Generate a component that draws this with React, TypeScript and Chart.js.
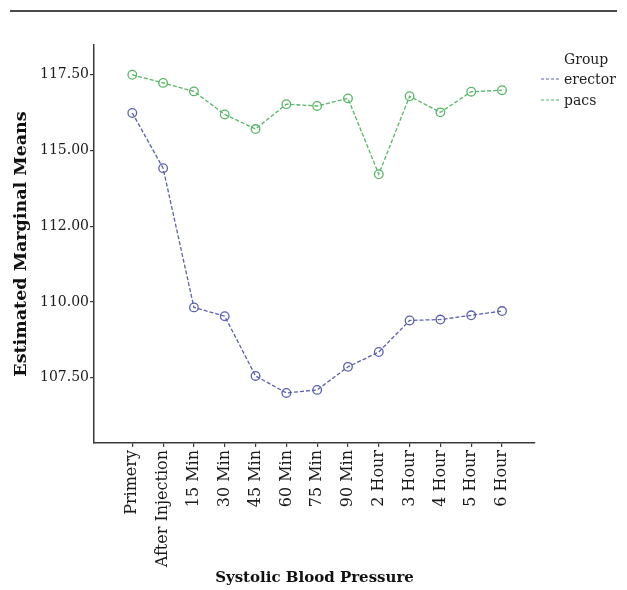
import React, { useEffect, useRef } from "react";
import { Chart, registerables } from "chart.js";

Chart.register(...registerables);

// Measurement occasions along the x axis
const timePoints = [
  "Primery",
  "After Injection",
  "15 Min",
  "30 Min",
  "45 Min",
  "60 Min",
  "75 Min",
  "90 Min",
  "2 Hour",
  "3 Hour",
  "4 Hour",
  "5 Hour",
  "6 Hour",
];

// Estimated marginal means of systolic blood pressure per group
const erectorMeans = [116.23, 114.41, 109.82, 109.53, 107.56, 107.0, 107.1, 107.86, 108.35, 109.39, 109.42, 109.56, 109.7];
const pacsMeans = [117.49, 117.22, 116.94, 116.18, 115.7, 116.52, 116.46, 116.71, 114.21, 116.78, 116.25, 116.93, 116.98];

const groupNames = ["erector", "pacs"];
const groupColors = ["#5a61ad", "#55b766"];

const yTickValues = [107.5, 110, 112.5, 115, 117.5];
const yTickLabels = ["107.50", "110.00", "112.00", "115.00", "117.50"];

const FONT = "'DejaVu Serif', serif";
const AXIS_COLOR = "#3a3a3a";

// Horizontal rule above the plot and the "Group" key on the right
const decorPlugin = {
  id: "decor",
  afterDraw(chart: any) {
    const ctx = chart.ctx as CanvasRenderingContext2D;
    ctx.save();
    ctx.strokeStyle = "#4a4a4a";
    ctx.lineWidth = 2;
    ctx.beginPath();
    ctx.moveTo(10, 11);
    ctx.lineTo(617, 11);
    ctx.stroke();

    ctx.fillStyle = "#222";
    ctx.font = `14px ${FONT}`;
    ctx.textBaseline = "middle";
    ctx.textAlign = "left";
    ctx.fillText("Group", 564, 60);
    groupNames.forEach((name, i) => {
      const y = 79 + i * 21;
      ctx.strokeStyle = groupColors[i];
      ctx.lineWidth = 1.2;
      ctx.setLineDash([3, 2]);
      ctx.beginPath();
      ctx.moveTo(541, y);
      ctx.lineTo(561, y);
      ctx.stroke();
      ctx.setLineDash([]);
      ctx.fillStyle = "#222";
      ctx.fillText(name, 564, y + 1);
    });
    ctx.restore();
  },
};

export default function App() {
  const canvasRef = useRef<HTMLCanvasElement | null>(null);

  useEffect(() => {
    if (!canvasRef.current) return;
    const makeSeries = (values: number[], i: number) => ({
      label: groupNames[i],
      data: values.map((v, k) => ({ x: k, y: v })),
      borderColor: groupColors[i],
      borderWidth: 1.3,
      borderDash: [4, 2],
      pointStyle: "circle",
      pointRadius: 4.3,
      pointBorderWidth: 1.3,
      pointBorderColor: groupColors[i],
      pointBackgroundColor: "rgba(255,255,255,0)",
      tension: 0,
      fill: false,
    });

    const chart = new Chart(canvasRef.current, {
      type: "line",
      data: {
        datasets: [makeSeries(erectorMeans, 0), makeSeries(pacsMeans, 1)],
      },
      options: {
        responsive: false,
        animation: false,
        devicePixelRatio: 1,
        layout: { padding: { left: 0, right: 92, top: 45, bottom: 0 } },
        plugins: {
          legend: { display: false },
          tooltip: { enabled: false },
        },
        scales: {
          x: {
            type: "linear",
            min: -1.243,
            max: 13.07,
            afterBuildTicks: (axis: any) => {
              axis.ticks = timePoints.map((_, i) => ({ value: i }));
            },
            afterFit: (scale: any) => {
              scale.height = 147;
            },
            grid: {
              drawOnChartArea: false,
              drawTicks: true,
              tickLength: 4,
              color: AXIS_COLOR,
              lineWidth: 1.2,
            },
            border: { display: true, color: AXIS_COLOR, width: 1.5 },
            ticks: {
              autoSkip: false,
              minRotation: 90,
              maxRotation: 90,
              padding: 3,
              color: "#1a1a1a",
              font: { family: FONT, size: 16 },
              callback: (v: any) => timePoints[Math.round(Number(v))] ?? "",
            },
            title: {
              display: true,
              text: "Systolic Blood Pressure",
              color: "#111",
              font: { family: FONT, size: 15, weight: "bold" },
              padding: { top: 0, bottom: 3 },
            },
          },
          y: {
            type: "linear",
            min: 105.35,
            max: 118.47,
            afterBuildTicks: (axis: any) => {
              axis.ticks = yTickValues.map((v) => ({ value: v }));
            },
            afterFit: (scale: any) => {
              scale.width = 94;
            },
            grid: {
              drawOnChartArea: false,
              drawTicks: true,
              tickLength: 4,
              color: AXIS_COLOR,
              lineWidth: 1.2,
            },
            border: { display: true, color: AXIS_COLOR, width: 1.5 },
            ticks: {
              padding: 1,
              color: "#1a1a1a",
              font: { family: FONT, size: 14 },
              callback: (_v: any, i: number) => yTickLabels[i] ?? "",
            },
            title: {
              display: true,
              text: "Estimated Marginal Means",
              color: "#111",
              font: { family: FONT, size: 17.5, weight: "bold" },
              padding: { top: 11, bottom: 0 },
            },
          },
        },
      },
      plugins: [decorPlugin],
    } as any);

    return () => chart.destroy();
  }, []);

  return (
    <div style={{ position: "fixed", left: 0, top: 0, width: 627, height: 590, background: "#fff" }}>
      <canvas ref={canvasRef} width={627} height={590} style={{ display: "block" }} />
    </div>
  );
}
